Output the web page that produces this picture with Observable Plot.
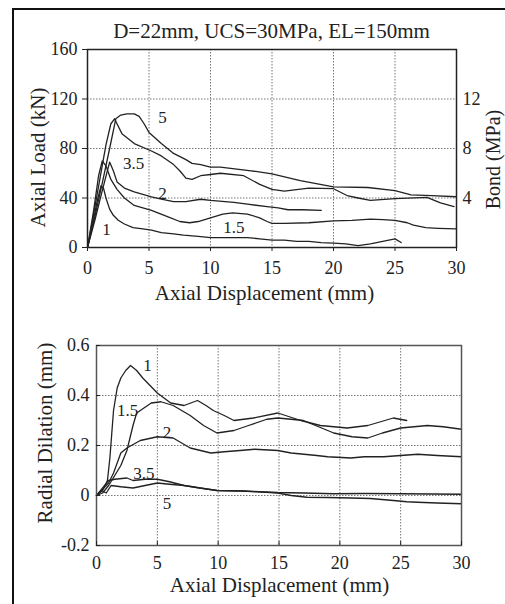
<!DOCTYPE html>
<html><head><meta charset="utf-8">
<script src="https://cdn.jsdelivr.net/npm/d3@7"></script>
<script src="https://cdn.jsdelivr.net/npm/@observablehq/plot@0.6"></script>
<style>
html,body{margin:0;padding:0;background:#fff;}
#wrap{position:relative;width:505px;height:604px;overflow:hidden;background:#fff;}
#border{position:absolute;left:12px;top:8px;width:600px;height:700px;border-left:2px solid #111;border-top:2px solid #111;}
#top{position:absolute;left:0;top:0;}
#bot{position:absolute;left:0;top:310px;}
svg{overflow:visible;}
</style></head><body>
<div id="wrap"><div id="border"></div><div id="top"></div><div id="bot"></div></div>
<script>
// ---------- data ----------
const titleText = "D=22mm, UCS=30MPa, EL=150mm";
const xTitle = "Axial Displacement (mm)";
const loadTitle = "Axial Load (kN)";
const bondTitle = "Bond (MPa)";
const radTitle = "Radial Dilation (mm)";

const xTicks = [0, 5, 10, 15, 20, 25, 30];
const xGrid = [5, 10, 15, 20, 25];
const loadTicks = [0, 40, 80, 120, 160];
const loadGrid = [40, 80, 120];
const bondTicks = [4, 8, 12];          // MPa (bond = load / 10)
const radTicks = [-0.2, 0, 0.2, 0.4, 0.6];
const radGrid = [0, 0.2, 0.4];

// Axial load (kN) curves, by embedment label
const load1X = [0,0.4,0.8,1.1,1.3,1.5,1.8,2.1,2.5,3,3.7,4.5,5.2,6,7,7.8,9,10,11,12,13,14,15,16,17,18,19,20,21,22,23,24,24.5,25,25.5];
const load1Y = [0,18,38,50,48,40,31,26,22,19,16,15,14,12,11,10,9,8,8,8,8,7,6,6,5,5,4,3.5,3,1.5,3,5,6,7,4];
const load15X = [0,0.5,0.9,1.2,1.5,1.9,2.4,3,3.8,5.2,6.5,7.5,8.3,9,10,11,11.8,13,14,14.6,15,16,18,20,21.5,23,24,25,26,26.5,27.5,28.5,30];
const load15Y = [0,30,58,70,66,55,47,40,34,30,25,21,20,21,24,27,28,27,24,21,19.5,19.5,20,21.5,22,23,22.5,22,20,18,16,15.5,15];
const load2X = [0,0.6,1.2,1.8,2.1,2.4,3,3.8,5.2,6,7,8,9.2,10,11.9,13,14.6,15.5,16.3,17.5,19];
const load2Y = [0,22,46,69,62,53,48,45,41,39,37,37,39,38,36.5,35,33,32,30.5,30.5,30];
const load35X = [0,0.5,1,1.5,1.9,2.2,2.5,2.8,3.8,5.2,6,7,7.5,8,8.5,9.2,10,10.8,12.7,14,15,16,18,20,21.1,22,23,25,27.6,28.7,29.8];
const load35Y = [0,27,55,83,100,104,98,92,84,78,74,67,62,56,55,58,59,60,58,51,47,45.5,48,47.5,42,40,38,39.5,40.5,36,33];
const load5X = [0,0.6,1.2,1.8,2.3,2.7,3.2,3.8,4.2,4.6,5,6,7,8,8.5,9.2,10,10.8,13.3,15,17.3,20,22.8,25,26.3,28,30];
const load5Y = [0,25,52,80,104,107,108,108,106,100,93,84,76,71,68,67,65,65,62,59.5,54,49,48.5,46,42.5,42,41];

// Radial dilation (mm) curves
const rad1X = [0,0.5,0.9,1.1,1.4,1.7,2,2.4,2.8,3.3,3.8,4.2,5,6.1,7.2,8.3,9,9.6,10.5,11.3,12.9,14.9,16.8,18.4,20.6,22.3,24.4,25.5];
const rad1Y = [0,0.02,0.06,0.15,0.34,0.43,0.47,0.5,0.52,0.5,0.47,0.45,0.41,0.37,0.36,0.38,0.36,0.34,0.32,0.3,0.31,0.33,0.3,0.28,0.27,0.28,0.31,0.30];
const rad15X = [0,0.5,1,1.5,2,2.5,3,3.3,3.9,4.5,5.3,6.3,7.7,8.8,9.9,11.3,12.5,14,14.9,16,17,18,19.5,21,22.3,23.5,25,27.2,28.5,30];
const rad15Y = [0,0.01,0.04,0.08,0.12,0.18,0.28,0.33,0.35,0.37,0.375,0.36,0.32,0.28,0.25,0.26,0.28,0.305,0.31,0.305,0.3,0.28,0.25,0.235,0.23,0.25,0.27,0.28,0.275,0.265];
const rad2X = [0,0.6,1,1.4,2,2.5,3.6,5,6.3,7.7,9.4,10.5,11.8,13,14.9,16,18.1,19,20.9,22,23.6,25,26.4,28,30];
const rad2Y = [0,0.03,0.05,0.09,0.17,0.19,0.22,0.235,0.23,0.19,0.17,0.175,0.18,0.185,0.18,0.17,0.16,0.155,0.15,0.155,0.155,0.16,0.165,0.16,0.155];
const rad35X = [0,0.5,1,1.5,2.5,3,4,5,6,7.2,8.5,9.9,12,14.9,17,19.5,22,25,27.5,30];
const rad35Y = [0,0.03,0.06,0.065,0.07,0.06,0.065,0.065,0.055,0.04,0.03,0.02,0.018,0.012,0.01,0.007,0.008,0.007,0.006,0.005];
const rad5X = [0,0.4,0.8,1.2,2,3,4,5,6,7.2,8.5,9.9,12,14.9,16,17.3,19,20.9,22.5,24.4,25.5,26.4,28,30];
const rad5Y = [0,0.02,0.01,0.04,0.035,0.03,0.04,0.05,0.045,0.04,0.03,0.02,0.018,0.01,0.0,-0.007,-0.008,-0.01,-0.012,-0.02,-0.025,-0.027,-0.03,-0.033];

// curve labels
const loadLabelText = ["5", "3.5", "2", "1.5", "1"];
const loadLabelX = [6.1, 3.75, 6.1, 11.9, 1.55];
const loadLabelY = [105, 68, 43.6, 16, 14.5];
const radLabelText = ["1", "1.5", "2", "3.5", "5"];
const radLabelX = [4.2, 2.55, 5.8, 3.9, 5.8];
const radLabelY = [0.52, 0.34, 0.252, 0.088, -0.032];

// ---------- build ----------
const FONT = '"Liberation Serif","Times New Roman",Times,serif';
const INK = "#222";
function series(name, xs, ys) { return xs.map((x, i) => ({s: name, x, y: ys[i]})); }
function labels(ts, xs, ys) { return ts.map((t, i) => ({t, x: xs[i], y: ys[i]})); }
const T = {text: d => d, textAnchor: "middle", lineAnchor: "middle", fontSize: 21, fill: INK};

const loadData = [
  ...series("1", load1X, load1Y), ...series("1.5", load15X, load15Y),
  ...series("2", load2X, load2Y), ...series("3.5", load35X, load35Y),
  ...series("5", load5X, load5Y)
];
const radData = [
  ...series("1", rad1X, rad1Y), ...series("1.5", rad15X, rad15Y),
  ...series("2", rad2X, rad2Y), ...series("3.5", rad35X, rad35Y),
  ...series("5", rad5X, rad5Y)
];
const gridStyle = {stroke: "#777", strokeOpacity: 1, strokeWidth: 1, strokeDasharray: "1.5,1.5"};

const topPlot = Plot.plot({
  width: 505, height: 310,
  marginLeft: 87, marginRight: 49, marginTop: 49, marginBottom: 63,
  style: {fontFamily: FONT, fontSize: "18px", color: INK, background: "transparent", overflow: "visible"},
  x: {domain: [0, 30]},
  y: {domain: [0, 160]},
  marks: [
    Plot.gridX(xGrid, gridStyle),
    Plot.gridY(loadGrid, gridStyle),
    Plot.line(loadData, {x: "x", y: "y", z: "s", stroke: INK, strokeWidth: 1.3}),
    Plot.frame({stroke: INK, strokeWidth: 1.5}),
    Plot.axisX(xTicks, {tickSize: 4, tickPadding: 10, fontSize: 18, label: null}),
    Plot.axisY(loadTicks, {tickSize: 5, tickPadding: 5, fontSize: 18, label: null}),
    Plot.axisY(bondTicks.map(b => b * 10), {anchor: "right", tickSize: 0, tickPadding: 6, fontSize: 18, tickFormat: d => String(d / 10), label: null}),
    Plot.text(labels(loadLabelText, loadLabelX, loadLabelY), {x: "x", y: "y", text: "t", fontSize: 17, fill: INK}),
    Plot.text([titleText], {...T, frameAnchor: "top", dy: -18, dx: -0.5}),
    Plot.text([loadTitle], {...T, frameAnchor: "left", rotate: -90, dx: -49, dy: 9}),
    Plot.text([bondTitle], {...T, frameAnchor: "right", rotate: -90, dx: 37, dy: 11, fontSize: 20}),
    Plot.text([xTitle], {...T, frameAnchor: "bottom", dy: 46, dx: -7.5})
  ]
});
document.getElementById("top").appendChild(topPlot);

const botPlot = Plot.plot({
  width: 505, height: 294,
  marginLeft: 96, marginRight: 44, marginTop: 35, marginBottom: 59,
  style: {fontFamily: FONT, fontSize: "18px", color: INK, background: "transparent", overflow: "visible"},
  x: {domain: [0, 30]},
  y: {domain: [-0.2, 0.6]},
  marks: [
    Plot.gridX(xGrid, gridStyle),
    Plot.gridY(radGrid, gridStyle),
    Plot.line(radData, {x: "x", y: "y", z: "s", stroke: INK, strokeWidth: 1.3}),
    Plot.frame({stroke: "#555", strokeWidth: 1.5}),
    Plot.axisX(xTicks, {tickSize: -4, tickPadding: 15, fontSize: 18, label: null}),
    Plot.axisY(radTicks, {tickSize: -4, tickPadding: 11, fontSize: 18, tickFormat: d => d === 0 ? "0" : d.toFixed(1), label: null}),
    Plot.text(labels(radLabelText, radLabelX, radLabelY), {x: "x", y: "y", text: "t", fontSize: 17, fill: INK}),
    Plot.text([radTitle], {...T, frameAnchor: "left", rotate: -90, dx: -51, dy: -12.5}),
    Plot.text([xTitle], {...T, frameAnchor: "bottom", dy: 40, dx: 0.5})
  ]
});
document.getElementById("bot").appendChild(botPlot);
</script>
</body></html>
